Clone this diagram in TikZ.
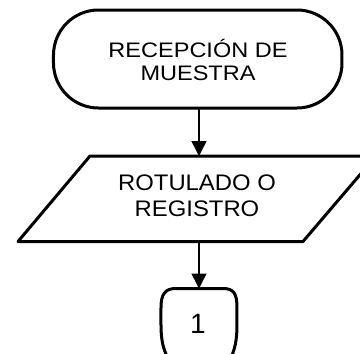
\documentclass[tikz,border=0pt]{standalone}
\usepackage{fontspec}
\setmainfont{Liberation Sans}
\newfontfamily\fontA[FakeStretch=1.12]{Liberation Sans}
\newfontfamily\fontB[FakeStretch=1.06]{Liberation Sans}
\usetikzlibrary{arrows.meta}
\tikzset{
  shapeline/.style={draw=black, line width=3pt, line join=round},
  flow/.style={draw=black, line width=1.5pt, -{Triangle[width=15pt,length=15pt]}},
  lbl/.style={inner sep=0pt, align=center, text=black},
}
\begin{document}
\begin{tikzpicture}[x=1pt,y=-1pt]
\useasboundingbox (0,0) rectangle (360,354);
\clip (0,0) rectangle (360,354);
\fill[white] (0,0) rectangle (360,354);
% terminal
\draw[shapeline, rounded corners=45pt] (53.5,10) rectangle (342,108);
% parallelogram
\draw[shapeline] (90,156) -- (376,156) -- (303,241.5) -- (18,241.5) -- cycle;
% connector
\draw[shapeline] (170,362) .. controls (163,350) and (161,340) .. (161,325) -- (161,308)
  .. controls (161,294) and (165,288.5) .. (176,288.5) -- (223,288.5)
  .. controls (234,288.5) and (237,294) .. (237,308) -- (237,325)
  .. controls (237,340) and (235,350) .. (229,362);
% texts
\node[lbl, anchor=base, font=\fontA\fontsize{21pt}{23pt}\selectfont] (t1) at (198,80.5) {RECEPCIÓN DE\\MUESTRA};
\node[lbl, anchor=base, font=\fontB\fontsize{22.5pt}{26.5pt}\selectfont] (t2) at (197,216.5) {ROTULADO O\\REGISTRO};
\node[lbl, anchor=base, font=\fontsize{28pt}{30pt}\selectfont] (t3) at (198,333) {1};
% connector points
\coordinate (tb) at (199,108);
\coordinate (pt) at (199,156);
\coordinate (pb) at (199,241.5);
\coordinate (ct) at (199,288.5);
\draw[flow] (tb) -- (pt);
\draw[flow] (pb) -- (ct);
\end{tikzpicture}
\end{document}
